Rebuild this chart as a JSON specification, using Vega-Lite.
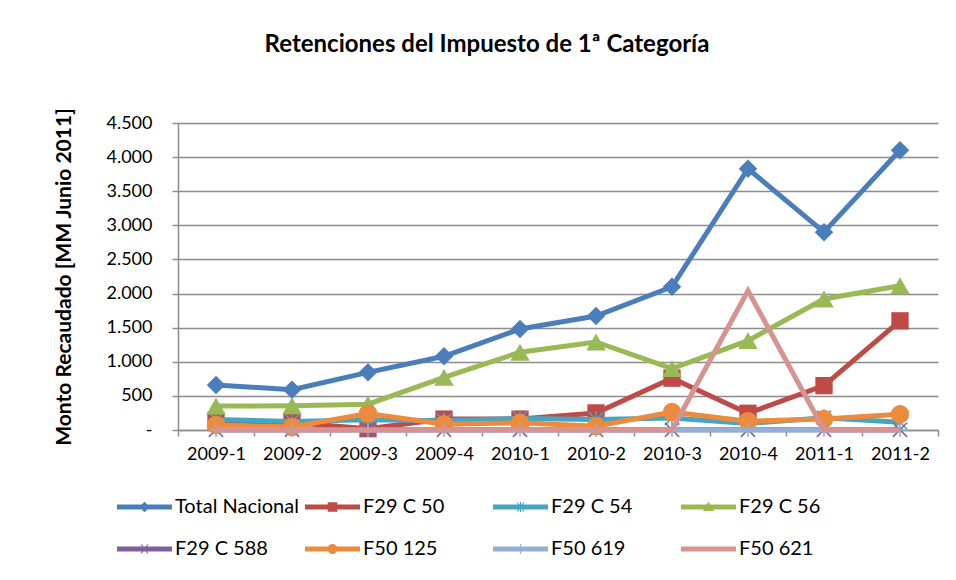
{
  "$schema": "https://vega.github.io/schema/vega-lite/v6.json",
  "autosize": "none",
  "width": 760,
  "height": 307,
  "padding": {"left": 178, "top": 123, "right": 18, "bottom": 150},
  "background": "white",
  "config": {
    "font": "Lato",
    "view": {"stroke": null},
    "axis": {"labelColor": "black", "titleColor": "black", "domainColor": "#8c8c8c", "tickColor": "#8c8c8c", "gridColor": "#8c8c8c"}
  },
  "title": {"text": "Retenciones del Impuesto de 1ª Categoría", "fontSize": 24, "fontWeight": "bold", "font": "Lato", "color": "black", "anchor": "middle", "dx": -71, "offset": 50},
  "datasets": {
    "d": [
      {"serie": "Total Nacional", "periodo": "2009-1", "v": 660},
      {"serie": "Total Nacional", "periodo": "2009-2", "v": 590},
      {"serie": "Total Nacional", "periodo": "2009-3", "v": 845},
      {"serie": "Total Nacional", "periodo": "2009-4", "v": 1080},
      {"serie": "Total Nacional", "periodo": "2010-1", "v": 1480},
      {"serie": "Total Nacional", "periodo": "2010-2", "v": 1670},
      {"serie": "Total Nacional", "periodo": "2010-3", "v": 2100},
      {"serie": "Total Nacional", "periodo": "2010-4", "v": 3830},
      {"serie": "Total Nacional", "periodo": "2011-1", "v": 2900},
      {"serie": "Total Nacional", "periodo": "2011-2", "v": 4100},
      {"serie": "F29 C 50", "periodo": "2009-1", "v": 130},
      {"serie": "F29 C 50", "periodo": "2009-2", "v": 110},
      {"serie": "F29 C 50", "periodo": "2009-3", "v": 20},
      {"serie": "F29 C 50", "periodo": "2009-4", "v": 160},
      {"serie": "F29 C 50", "periodo": "2010-1", "v": 160},
      {"serie": "F29 C 50", "periodo": "2010-2", "v": 250},
      {"serie": "F29 C 50", "periodo": "2010-3", "v": 760},
      {"serie": "F29 C 50", "periodo": "2010-4", "v": 245},
      {"serie": "F29 C 50", "periodo": "2011-1", "v": 650},
      {"serie": "F29 C 50", "periodo": "2011-2", "v": 1600},
      {"serie": "F29 C 54", "periodo": "2009-1", "v": 155},
      {"serie": "F29 C 54", "periodo": "2009-2", "v": 125},
      {"serie": "F29 C 54", "periodo": "2009-3", "v": 150},
      {"serie": "F29 C 54", "periodo": "2009-4", "v": 135},
      {"serie": "F29 C 54", "periodo": "2010-1", "v": 170},
      {"serie": "F29 C 54", "periodo": "2010-2", "v": 155},
      {"serie": "F29 C 54", "periodo": "2010-3", "v": 175},
      {"serie": "F29 C 54", "periodo": "2010-4", "v": 95},
      {"serie": "F29 C 54", "periodo": "2011-1", "v": 180},
      {"serie": "F29 C 54", "periodo": "2011-2", "v": 115},
      {"serie": "F29 C 56", "periodo": "2009-1", "v": 350},
      {"serie": "F29 C 56", "periodo": "2009-2", "v": 355},
      {"serie": "F29 C 56", "periodo": "2009-3", "v": 378},
      {"serie": "F29 C 56", "periodo": "2009-4", "v": 771},
      {"serie": "F29 C 56", "periodo": "2010-1", "v": 1140},
      {"serie": "F29 C 56", "periodo": "2010-2", "v": 1290},
      {"serie": "F29 C 56", "periodo": "2010-3", "v": 900},
      {"serie": "F29 C 56", "periodo": "2010-4", "v": 1310},
      {"serie": "F29 C 56", "periodo": "2011-1", "v": 1920},
      {"serie": "F29 C 56", "periodo": "2011-2", "v": 2115},
      {"serie": "F29 C 588", "periodo": "2009-1", "v": 3},
      {"serie": "F29 C 588", "periodo": "2009-2", "v": 3},
      {"serie": "F29 C 588", "periodo": "2009-3", "v": 3},
      {"serie": "F29 C 588", "periodo": "2009-4", "v": 3},
      {"serie": "F29 C 588", "periodo": "2010-1", "v": 3},
      {"serie": "F29 C 588", "periodo": "2010-2", "v": 3},
      {"serie": "F29 C 588", "periodo": "2010-3", "v": 3},
      {"serie": "F29 C 588", "periodo": "2010-4", "v": 3},
      {"serie": "F29 C 588", "periodo": "2011-1", "v": 3},
      {"serie": "F29 C 588", "periodo": "2011-2", "v": 3},
      {"serie": "F50 125", "periodo": "2009-1", "v": 75},
      {"serie": "F50 125", "periodo": "2009-2", "v": 45},
      {"serie": "F50 125", "periodo": "2009-3", "v": 240},
      {"serie": "F50 125", "periodo": "2009-4", "v": 85},
      {"serie": "F50 125", "periodo": "2010-1", "v": 105},
      {"serie": "F50 125", "periodo": "2010-2", "v": 55},
      {"serie": "F50 125", "periodo": "2010-3", "v": 265},
      {"serie": "F50 125", "periodo": "2010-4", "v": 130},
      {"serie": "F50 125", "periodo": "2011-1", "v": 160},
      {"serie": "F50 125", "periodo": "2011-2", "v": 232},
      {"serie": "F50 619", "periodo": "2009-1", "v": 0},
      {"serie": "F50 619", "periodo": "2009-2", "v": 0},
      {"serie": "F50 619", "periodo": "2009-3", "v": 0},
      {"serie": "F50 619", "periodo": "2009-4", "v": 0},
      {"serie": "F50 619", "periodo": "2010-1", "v": 0},
      {"serie": "F50 619", "periodo": "2010-2", "v": 0},
      {"serie": "F50 619", "periodo": "2010-3", "v": 0},
      {"serie": "F50 619", "periodo": "2010-4", "v": 0},
      {"serie": "F50 619", "periodo": "2011-1", "v": 0},
      {"serie": "F50 619", "periodo": "2011-2", "v": 0},
      {"serie": "F50 621", "periodo": "2009-1", "v": 0},
      {"serie": "F50 621", "periodo": "2009-2", "v": 0},
      {"serie": "F50 621", "periodo": "2009-3", "v": 0},
      {"serie": "F50 621", "periodo": "2009-4", "v": 0},
      {"serie": "F50 621", "periodo": "2010-1", "v": 0},
      {"serie": "F50 621", "periodo": "2010-2", "v": 0},
      {"serie": "F50 621", "periodo": "2010-3", "v": 0},
      {"serie": "F50 621", "periodo": "2010-4", "v": 2040},
      {"serie": "F50 621", "periodo": "2011-1", "v": 0},
      {"serie": "F50 621", "periodo": "2011-2", "v": 0}
    ]
  },
  "data": {"name": "d"},
  "encoding": {
    "x": {"field": "periodo", "type": "ordinal", "title": null,
      "scale": {"type": "band", "paddingInner": 0, "paddingOuter": 0},
      "axis": {"labelAngle": 0, "labelFontSize": 18, "labelPadding": 9, "tickSize": 6, "tickBand": "extent", "domainWidth": 1.5, "tickWidth": 1.5, "grid": false}},
    "y": {"field": "v", "type": "quantitative", "title": "Monto Recaudado [MM Junio 2011]",
      "scale": {"domain": [0, 4500], "nice": false},
      "axis": {"values": [0, 500, 1000, 1500, 2000, 2500, 3000, 3500, 4000, 4500],
        "labelExpr": "datum.value == 0 ? '-' : replace(format(datum.value, ','), ',', '.')",
        "labelFontSize": 18, "labelPadding": 20, "tickSize": 6, "tickWidth": 1.5, "domainWidth": 1.5,
        "grid": true, "gridWidth": 1.5,
        "titleFontSize": 21, "titleFontWeight": "bold", "titlePadding": 31}},
    "color": {"field": "serie", "type": "nominal", "legend": null,
      "scale": {"domain": ["Total Nacional", "F29 C 50", "F29 C 54", "F29 C 56", "F29 C 588", "F50 125", "F50 619", "F50 621"],
        "range": ["#4A7EBB", "#BE4B48", "#46A5C0", "#98B954", "#7D60A0", "#EC8B3E", "#94AFD6", "#D69392"]}}
  },
  "layer": [
    {"mark": {"type": "point", "filled": true, "opacity": 0},
      "encoding": {
        "color": {"field": "serie", "type": "nominal",
          "scale": {"domain": ["Total Nacional", "F29 C 50", "F29 C 54", "F29 C 56", "F29 C 588", "F50 125", "F50 619", "F50 621"],
            "range": ["#4A7EBB", "#BE4B48", "#46A5C0", "#98B954", "#7D60A0", "#EC8B3E", "#94AFD6", "#D69392"]},
          "legend": {"orient": "none", "legendX": -66, "legendY": 374, "direction": "horizontal", "columns": 4, "title": null, "gridAlign": "all", "columnPadding": 1, "rowPadding": 22, "symbolSize": 100, "symbolStrokeWidth": 0, "symbolOpacity": 1, "labelOffset": 43, "labelFontSize": 20, "labelColor": "black", "padding": 0, "labelLimit": 300}},
        "shape": {"field": "serie", "type": "nominal",
          "scale": {"domain": ["Total Nacional", "F29 C 50", "F29 C 54", "F29 C 56", "F29 C 588", "F50 125", "F50 619", "F50 621"],
            "range": [
              "M-1,-0.5H10V0.5H-1Z M3.45,0L4.5,-1.05L5.55,0L4.5,1.05Z",
              "M-1,-0.5H10V0.5H-1Z M3.55,-0.95H5.45V0.95H3.55Z",
              "M-1,-0.5H10V0.5H-1Z M3.7,-0.9L3.95,-0.9L5.3,0.9L5.05,0.9Z M5.05,-0.9L5.3,-0.9L3.95,0.9L3.7,0.9Z M4.38,-1H4.62V1H4.38Z",
              "M-1,-0.5H10V0.5H-1Z M4.5,-1.1L5.6,0.8L3.4,0.8Z",
              "M-1,-0.5H10V0.5H-1Z M3.7,-0.9L3.95,-0.9L5.3,0.9L5.05,0.9Z M5.05,-0.9L5.3,-0.9L3.95,0.9L3.7,0.9Z",
              "M-1,-0.5H10V0.5H-1Z M3.5,0A1,1 0 1 1 5.5,0A1,1 0 1 1 3.5,0Z",
              "M-1,-0.5H10V0.5H-1Z M4.38,-1H4.62V1H4.38Z",
              "M-1,-0.5H10V0.5H-1Z"
            ]},
          "legend": {"orient": "none", "legendX": -66, "legendY": 374, "direction": "horizontal", "columns": 4, "title": null, "gridAlign": "all", "columnPadding": 1, "rowPadding": 22, "symbolSize": 100, "symbolStrokeWidth": 0, "symbolOpacity": 1, "labelOffset": 43, "labelFontSize": 20, "labelColor": "black", "padding": 0, "labelLimit": 300}}
      }},
    {"transform": [{"filter": {"field": "serie", "equal": "Total Nacional"}}], "mark": {"type": "line", "strokeWidth": 5}},
    {"transform": [{"filter": {"field": "serie", "equal": "Total Nacional"}}], "mark": {"type": "point", "shape": "diamond", "filled": true, "size": 340, "opacity": 1}},
    {"transform": [{"filter": {"field": "serie", "equal": "F29 C 50"}}], "mark": {"type": "line", "strokeWidth": 5}},
    {"transform": [{"filter": {"field": "serie", "equal": "F29 C 50"}}], "mark": {"type": "point", "shape": "square", "filled": true, "size": 300, "opacity": 1}},
    {"transform": [{"filter": {"field": "serie", "equal": "F29 C 54"}}], "mark": {"type": "line", "strokeWidth": 5}},
    {"transform": [{"filter": {"field": "serie", "equal": "F29 C 54"}}], "mark": {"type": "point", "shape": "M-1,-1L1,1M-1,1L1,-1M0,-1.2L0,1.2", "filled": false, "size": 200, "strokeWidth": 1.5, "opacity": 1}},
    {"transform": [{"filter": {"field": "serie", "equal": "F29 C 56"}}], "mark": {"type": "line", "strokeWidth": 5}},
    {"transform": [{"filter": {"field": "serie", "equal": "F29 C 56"}}], "mark": {"type": "point", "shape": "triangle-up", "filled": true, "size": 380, "opacity": 1}},
    {"transform": [{"filter": {"field": "serie", "equal": "F29 C 588"}}], "mark": {"type": "line", "strokeWidth": 5}},
    {"transform": [{"filter": {"field": "serie", "equal": "F29 C 588"}}], "mark": {"type": "point", "shape": "M-1,-1L1,1M-1,1L1,-1", "filled": false, "size": 200, "strokeWidth": 1.5, "opacity": 1}},
    {"transform": [{"filter": {"field": "serie", "equal": "F50 125"}}], "mark": {"type": "line", "strokeWidth": 5}},
    {"transform": [{"filter": {"field": "serie", "equal": "F50 125"}}], "mark": {"type": "point", "shape": "circle", "filled": true, "size": 340, "opacity": 1}},
    {"transform": [{"filter": {"field": "serie", "equal": "F50 619"}}], "mark": {"type": "line", "strokeWidth": 5}},
    {"transform": [{"filter": {"field": "serie", "equal": "F50 619"}}], "mark": {"type": "point", "shape": "M0,-1L0,1M-1,0L1,0", "filled": false, "size": 200, "strokeWidth": 1.5, "opacity": 1}},
    {"transform": [{"filter": {"field": "serie", "equal": "F50 621"}}], "mark": {"type": "line", "strokeWidth": 5}}
  ]
}
